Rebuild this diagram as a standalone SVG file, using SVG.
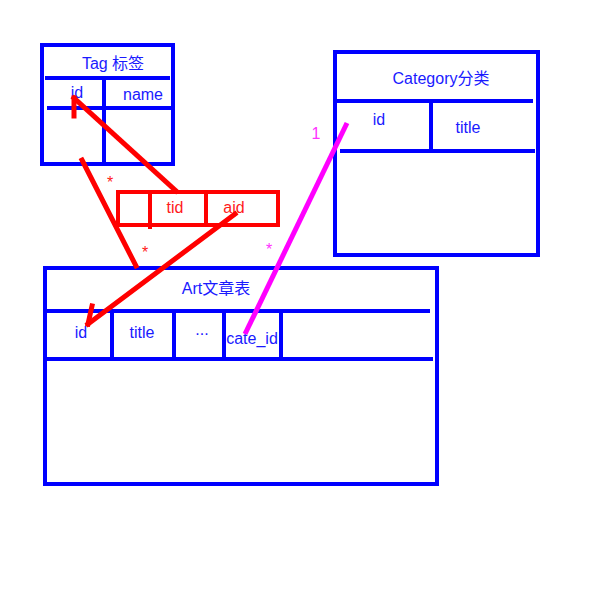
<svg xmlns="http://www.w3.org/2000/svg" width="600" height="600" viewBox="0 0 600 600">
<style>
.b{fill:none;stroke:#0000ff;stroke-width:4}
.r{fill:none;stroke:#ff0000;stroke-width:4}
.bt{fill:#1a1aff;font-family:"Liberation Sans","Noto Sans CJK SC",sans-serif;font-size:16px;text-anchor:middle}
.rt{fill:#ff1a1a;font-family:"Liberation Sans","Noto Sans CJK SC",sans-serif;font-size:16px;text-anchor:middle}
.mt{fill:#ff33ff;font-family:"Liberation Sans",sans-serif;font-size:16px;text-anchor:middle}
.rc{fill:none;stroke:#ff0000;stroke-width:5;stroke-linecap:square}
.mc{fill:none;stroke:#ff00ff;stroke-width:5}
</style>
<rect width="600" height="600" fill="#ffffff"/>
<g id="tag">
<rect class="b" x="42" y="45" width="131" height="119"/>
<line class="b" x1="45" y1="78" x2="170" y2="78"/>
<line class="b" x1="47" y1="108" x2="173" y2="108"/>
<line class="b" x1="104" y1="80" x2="104" y2="166"/>
<text class="bt" x="113" y="69">Tag 标签</text>
<text class="bt" x="77" y="98">id</text>
<text class="bt" x="143" y="100">name</text>
</g>
<g id="category">
<rect class="b" x="335" y="52" width="203" height="203"/>
<line class="b" x1="335" y1="101" x2="533" y2="101"/>
<line class="b" x1="340" y1="151" x2="535" y2="151"/>
<line class="b" x1="431" y1="101" x2="431" y2="151"/>
<text class="bt" x="441" y="84">Category分类</text>
<text class="bt" x="379" y="125">id</text>
<text class="bt" x="468" y="133">title</text>
</g>
<g id="art">
<rect class="b" x="45" y="268" width="392" height="216"/>
<line class="b" x1="45" y1="311" x2="430" y2="311"/>
<line class="b" x1="45" y1="359" x2="433" y2="359"/>
<line class="b" x1="112" y1="311" x2="112" y2="359"/>
<line class="b" x1="174" y1="311" x2="174" y2="359"/>
<line class="b" x1="224" y1="311" x2="224" y2="359"/>
<line class="b" x1="281" y1="311" x2="281" y2="359"/>
<text class="bt" x="216" y="294">Art文章表</text>
<text class="bt" x="81" y="338">id</text>
<text class="bt" x="142" y="338">title</text>
<text class="bt" x="202" y="335">...</text>
<text class="bt" x="252" y="344">cate_id</text>
</g>
<g id="tagart">
<rect class="r" x="118" y="192" width="160" height="33"/>
<line class="r" x1="150" y1="192" x2="150" y2="229"/>
<line class="r" x1="206" y1="192" x2="206" y2="225"/>
<text class="rt" x="175" y="213">tid</text>
<text class="rt" x="234" y="213">aid</text>
</g>
<g id="connectors">
<line class="rc" x1="176" y1="191" x2="74" y2="98"/>
<line class="rc" x1="74" y1="98" x2="74" y2="116"/>
<line class="rc" x1="82" y1="160" x2="136" y2="266"/>
<line class="rc" x1="235" y1="214" x2="88" y2="324"/>
<line class="rc" x1="88" y1="324" x2="92" y2="306"/>
<line class="mc" x1="347" y1="123" x2="245" y2="334"/>
<text class="rt" x="110" y="188">*</text>
<text class="rt" x="145" y="258">*</text>
<text class="mt" x="269" y="255">*</text>
<text class="mt" x="316" y="139">1</text>
</g>
</svg>
